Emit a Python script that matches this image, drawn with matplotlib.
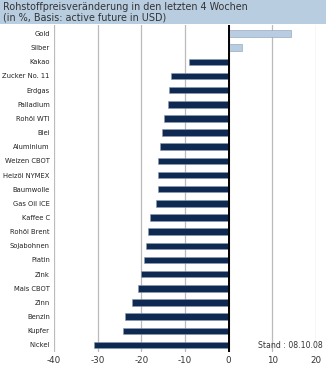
import numpy as np
import matplotlib.pyplot as plt
import matplotlib.patches as mpatches

# Rohstoffe und Veränderung in %
rohstoffe = ['Gold', 'Silber', 'Kakao', 'Zucker No. 11', 'Erdgas', 'Palladium',
             'Rohöl WTI', 'Blei', 'Aluminium', 'Weizen CBOT', 'Heizöl NYMEX',
             'Baumwolle', 'Gas Oil ICE', 'Kaffee C', 'Rohöl Brent', 'Sojabohnen',
             'Platin', 'Zink', 'Mais CBOT', 'Zinn', 'Benzin', 'Kupfer', 'Nickel']
werte = [14.3, 3.0, -9.1, -13.3, -13.7, -13.9, -14.8, -15.3, -15.8, -16.1, -16.1,
         -16.2, -16.7, -18.1, -18.5, -18.9, -19.5, -20.0, -20.8, -22.2, -23.7,
         -24.3, -30.9]
x_ticks = [-40, -30, -20, -10, 0, 10, 20]

dunkel = '#0e2a52'
hell = '#b9cde2'
farben = [hell if w > 0 else dunkel for w in werte]

fig = plt.figure(figsize=(3.26, 3.71), dpi=100)

# Titelband
fig.patches.append(mpatches.Rectangle((0, 1 - 24 / 371), 1, 24 / 371,
                                      transform=fig.transFigure,
                                      facecolor='#b8cde0', edgecolor='none'))
fig.text(3 / 326, 1 - 6.5 / 371, 'Rohstoffpreisveränderung in den letzten 4 Wochen',
         fontsize=6.9, color='#333333', va='center', ha='left')
fig.text(3 / 326, 1 - 18 / 371, '(in %, Basis: active future in USD)',
         fontsize=6.9, color='#333333', va='center', ha='left')

ax = fig.add_axes([54 / 326, 1 - 352 / 371, (316 - 54) / 326, (352 - 25) / 371])
y = np.arange(len(rohstoffe))
ax.barh(y, werte, height=0.46, color=farben, edgecolor='#8a9ab0', linewidth=0.4,
        zorder=2)
ax.axvline(0, color='black', linewidth=1.4, zorder=3)

ax.set_xlim(-40, 20)
ax.set_ylim(len(rohstoffe) - 0.5, -0.6)
ax.set_xticks(x_ticks)
ax.set_xticklabels([str(t) for t in x_ticks])
ax.set_yticks(y)
ax.set_yticklabels(rohstoffe)
ax.grid(axis='x', color='#bbbbbb', linewidth=0.9, zorder=0)
for s in ax.spines.values():
    s.set_visible(False)
ax.tick_params(axis='y', length=0, labelsize=4.9, labelcolor='#222222', pad=3)
ax.tick_params(axis='x', length=0, labelsize=6.3, labelcolor='#333333', pad=3)

fig.text(258 / 326, 1 - 345 / 371, 'Stand : 08.10.08', fontsize=5.6,
         color='#333333', va='center', ha='left')

fig.savefig('out.png', dpi=100)
